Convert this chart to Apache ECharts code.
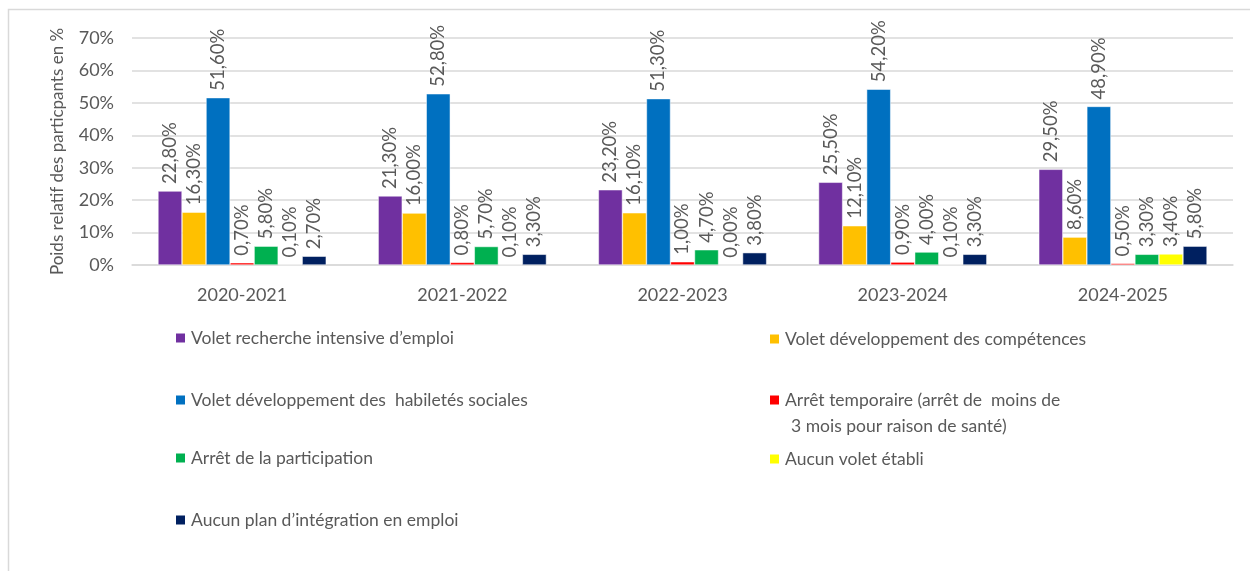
<!DOCTYPE html>
<html>
<head>
<meta charset="utf-8">
<script src="https://cdn.jsdelivr.net/npm/echarts@6/dist/echarts.min.js"></script>
<style>
  html, body { margin: 0; padding: 0; background: #fff; }
  #chart { width: 1250px; height: 571px; }
</style>
</head>
<body>
<div id="chart"></div>
<script>
// données du graphique
var years = ['2020-2021', '2021-2022', '2022-2023', '2023-2024', '2024-2025'];
var rechercheIntensive = [22.8, 21.3, 23.2, 25.5, 29.5];
var devCompetences = [16.3, 16.0, 16.1, 12.1, 8.6];
var habiletesSociales = [51.6, 52.8, 51.3, 54.2, 48.9];
var arretTemporaire = [0.7, 0.8, 1.0, 0.9, 0.5];
var arretParticipation = [5.8, 5.7, 4.7, 4.0, 3.3];
var aucunVolet = [0.1, 0.1, 0.0, 0.1, 3.4];
var aucunPlan = [2.7, 3.3, 3.8, 3.3, 5.8];

var seriesNames = [
  'Volet recherche intensive d’emploi',
  'Volet développement des compétences',
  'Volet développement des  habiletés sociales',
  'Arrêt temporaire (arrêt de  moins de 3 mois pour raison de santé)',
  'Arrêt de la participation',
  'Aucun volet établi',
  'Aucun plan d’intégration en emploi'
];
var seriesData = [rechercheIntensive, devCompetences, habiletesSociales, arretTemporaire,
                  arretParticipation, aucunVolet, aucunPlan];
var colors = ['#7030A0', '#FFC000', '#0070C0', '#FF0000', '#00B050', '#FFFF00', '#002060'];

var txt = '#595959';
var font = 'Lato, "Open Sans", sans-serif';

// position de chaque entrée de légende (colonne gauche / droite)
var legendPos = [
  { left: 174, top: 328 },
  { left: 768, top: 329 },
  { left: 174, top: 390 },
  { left: 768, top: 390 },
  { left: 174, top: 448 },
  { left: 768, top: 449 },
  { left: 174, top: 510 }
];

var chart = echarts.init(document.getElementById('chart'));

var legends = seriesNames.map(function (name, i) {
  return {
    data: [name],
    left: legendPos[i].left,
    top: legendPos[i].top,
    padding: 0,
    itemWidth: 11,
    itemHeight: 11,
    icon: 'rect',
    selectedMode: false,
    textStyle: { color: txt, fontSize: 17.5, fontFamily: font, lineHeight: 20 },
    formatter: function (n) {
      if (n.indexOf('Arrêt temporaire') === 0) return 'Arrêt temporaire (arrêt de  moins de';
      return n;
    }
  };
});

var option = {
  animation: false,
  color: colors,
  textStyle: { fontFamily: font },
  graphic: [
    {
      type: 'rect',
      shape: { x: 8.5, y: 9.5, width: 1300, height: 600 },
      style: { fill: 'none', stroke: '#D9D9D9', lineWidth: 1.5 },
      silent: true
    },
    {
      type: 'text',
      left: 791,
      top: 417,
      style: { text: '3 mois pour raison de santé)', fill: txt, font: '17.5px ' + font }
    }
  ],
  legend: legends,
  grid: { left: 132, right: 17, top: 38, bottom: 306 },
  xAxis: {
    type: 'category',
    data: years,
    axisTick: { show: false },
    axisLine: { lineStyle: { color: '#D9D9D9', width: 1.5 } },
    axisLabel: { color: txt, fontSize: 18, margin: 21 }
  },
  yAxis: {
    type: 'value',
    min: 0,
    max: 70,
    interval: 10,
    name: 'Poids relatif des particpants en %',
    nameLocation: 'middle',
    nameGap: 66,
    nameTextStyle: { color: txt, fontSize: 17 },
    axisLabel: { color: txt, fontSize: 18, margin: 18, formatter: '{value}%' },
    splitLine: { lineStyle: { color: '#D9D9D9', width: 1.5 } }
  },
  series: seriesNames.map(function (name, i) {
    return {
      name: name,
      type: 'bar',
      data: seriesData[i],
      barGap: 0,
      barCategoryGap: '23.6%',
      itemStyle: { color: colors[i], borderColor: '#fff', borderWidth: 0.5 },
      label: {
        show: true,
        position: 'top',
        rotate: 90,
        align: 'left',
        verticalAlign: 'middle',
        distance: 7,
        color: txt,
        fontSize: 18.5,
        formatter: function (p) {
          return p.value.toFixed(2).replace('.', ',') + '%';
        }
      }
    };
  })
};

chart.setOption(option);
</script>
</body>
</html>
